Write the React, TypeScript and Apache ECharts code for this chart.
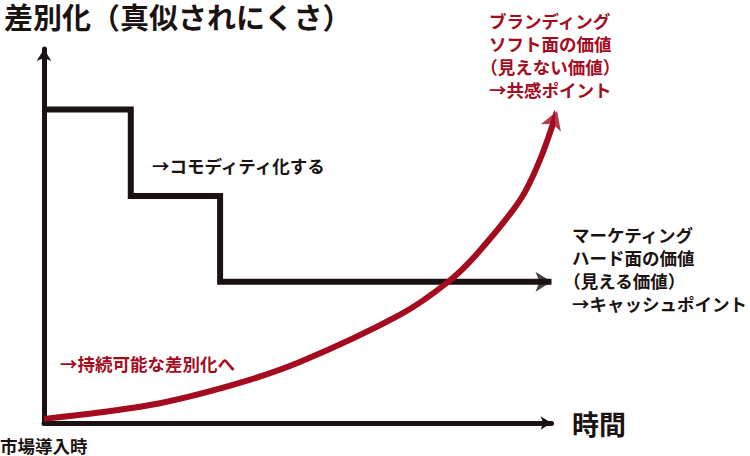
import React, { useEffect, useRef } from "react";
import * as echarts from "echarts";

// Black "hard value" step line (time, differentiation)
const stepX = [0, 17.1, 17.1, 34.7, 34.7, 100];
const stepY = [83.8, 83.8, 60.7, 60.7, 37.8, 37.8];

// Red "soft value" curve (time, differentiation)
const curveX = [0, 20.9, 37.2, 50.4, 70.1, 79.6, 85.3, 93.8, 97.7, 101.1];
const curveY = [1.1, 4.8, 10.2, 16.3, 28.9, 37.7, 45.2, 59.6, 70.3, 83.4];

const yAxisTitle = "差別化（真似されにくさ）";
const xAxisTitle = "時間";
const originLabel = "市場導入時";
const brandingLabel = ["ブランディング", "ソフト面の価値", "（見えない価値）", "→共感ポイント"];
const marketingLabel = ["マーケティング", "ハード面の価値", "（見える価値）", "→キャッシュポイント"];
const commodityLabel = "→コモディティ化する";
const sustainLabel = "→持続可能な差別化へ";

const BLACK = "#1a1311";
const RED = "#a50b1e";
const FONT = "'Noto Sans CJK JP', sans-serif";

export default function App() {
  const ref = useRef<HTMLDivElement>(null);
  useEffect(() => {
    if (!ref.current) return;
    const chart = echarts.init(ref.current, null, { renderer: "svg" });
    const stepData = stepX.map((x, i) => [x, stepY[i]]);
    const curveData = curveX.map((x, i) => [x, curveY[i]]);
    const lastStep = stepData[stepData.length - 1];
    const lastCurve = curveData[curveData.length - 1];

    const txt = (text: string, x: number, y: number, size: number, color: string, lh?: number) => ({
      type: "text",
      x,
      y,
      style: {
        text,
        fill: color,
        fontFamily: FONT,
        fontWeight: "bold",
        fontSize: size,
        lineHeight: lh,
        verticalAlign: lh ? "top" : "middle",
        align: "left",
      },
    });

    chart.setOption({
      animation: false,
      backgroundColor: "#ffffff",
      grid: { left: 44, right: 198.5, top: 49, bottom: 33, containLabel: false },
      xAxis: {
        type: "value",
        min: 0,
        max: 100,
        axisLine: {
          show: true,
          symbol: ["none", "arrow"],
          symbolSize: [10, 11],
          lineStyle: { color: BLACK, width: 5 },
        },
        axisTick: { show: false },
        axisLabel: { show: false },
        splitLine: { show: false },
      },
      yAxis: {
        type: "value",
        min: 0,
        max: 100,
        axisLine: {
          show: true,
          symbol: ["none", "arrow"],
          symbolSize: [11, 12],
          lineStyle: { color: BLACK, width: 5 },
        },
        axisTick: { show: false },
        axisLabel: { show: false },
        splitLine: { show: false },
      },
      series: [
        {
          type: "line",
          data: stepData,
          symbol: "none",
          clip: false,
          lineStyle: { color: BLACK, width: 6, cap: "butt", join: "miter" },
          z: 3,
        },
        {
          type: "scatter",
          data: [lastStep],
          symbol: "arrow",
          symbolSize: [15, 16],
          symbolRotate: -90,
          clip: false,
          itemStyle: { color: BLACK },
          z: 3,
        },
        {
          type: "line",
          data: curveData,
          symbol: "none",
          smooth: 0.35,
          clip: false,
          lineStyle: { color: RED, width: 6, cap: "butt" },
          z: 4,
        },
        {
          type: "scatter",
          data: [lastCurve],
          symbol: "arrow",
          symbolSize: [16, 18],
          symbolRotate: -20,
          clip: false,
          itemStyle: { color: RED },
          z: 4,
        },
      ],
      graphic: [
        txt(yAxisTitle, 4, 15.5, 29, BLACK),
        txt(xAxisTitle, 572, 423, 27, BLACK),
        txt(originLabel, 0, 445, 17.5, BLACK),
        txt(commodityLabel, 152, 165, 17.5, BLACK),
        txt(sustainLabel, 60, 363, 17.5, RED),
        txt(brandingLabel.join("\n"), 489, 8.5, 17.5, RED, 23.2),
        txt(marketingLabel.join("\n"), 572, 223, 17.5, BLACK, 23),
      ],
    });
    return () => chart.dispose();
  }, []);
  return (
    <>
      <style>{'text[style*="17.5px"]{font-feature-settings:"halt" 1;}'}</style>
      <div
        ref={ref}
        style={{ position: "fixed", left: 0, top: 0, width: 750, height: 456 }}
      />
    </>
  );
}
